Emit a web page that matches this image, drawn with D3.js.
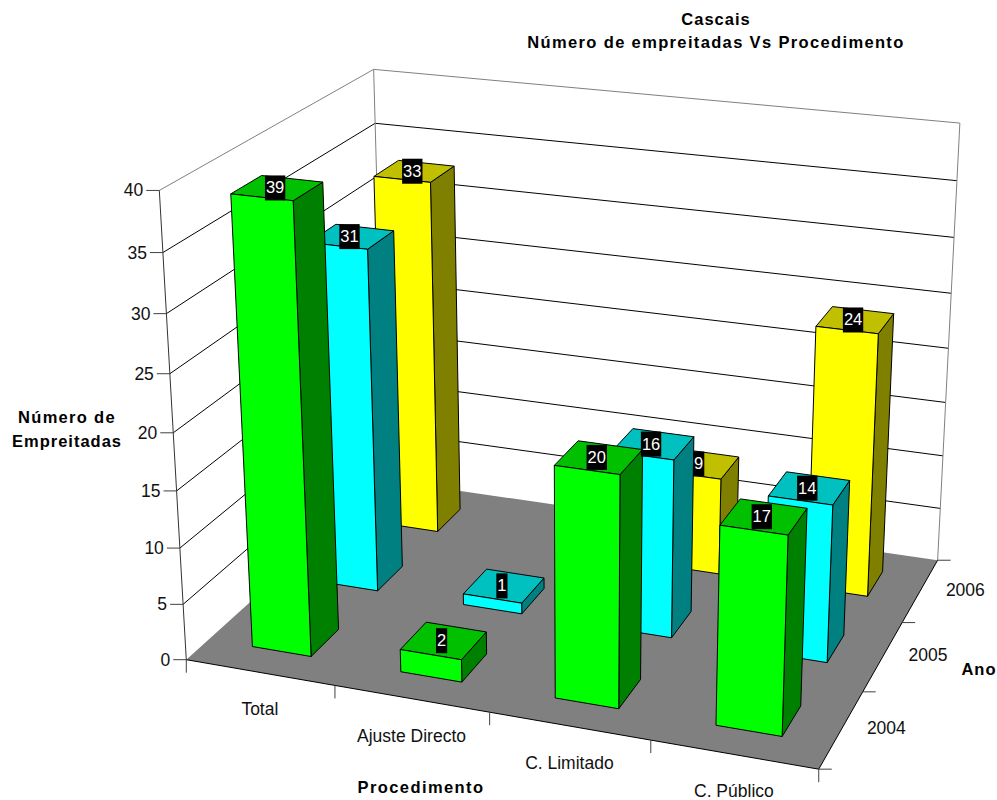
<!DOCTYPE html>
<html>
<head>
<meta charset="utf-8">
<script src="https://cdn.jsdelivr.net/npm/d3@7/dist/d3.min.js"></script>
<style>
  html, body { margin: 0; padding: 0; background: #fff; }
  svg { display: block; font-family: "Liberation Sans", Arial, sans-serif; }
</style>
</head>
<body>
<svg id="chart" width="997" height="800"></svg>
<script>
// Chart data
const categories = ["Total", "Ajuste Directo", "C. Limitado", "C. Público"];
const years = ["2004", "2005", "2006"];
const values2004 = [39, 2, 20, 17];
const values2005 = [31, 1, 16, 14];
const values2006 = [33, null, 9, 24];
const valueTicks = [0, 5, 10, 15, 20, 25, 30, 35, 40];
const seriesValues = { "2004": values2004, "2005": values2005, "2006": values2006 };
const palette = {
  "2004": { front: "#00ff00", top: "#00c000", side: "#008000" },
  "2005": { front: "#00ffff", top: "#00c0c0", side: "#008080" },
  "2006": { front: "#ffff00", top: "#c0c000", side: "#808000" }
};

// Unit-cube scales for the three chart dimensions
const xScale = d3.scaleBand().domain(categories).range([0, 1]).paddingInner(0.6).paddingOuter(0.3);
const yScale = d3.scaleBand().domain(years).range([0, 1]).paddingInner(0.6).paddingOuter(0.3);
const zScale = d3.scaleLinear().domain([0, 40]).range([0, 1]);

// Camera calibration: cube position -> page position of the box edges and ticks
const cameraAnchors = [
  [0, 0, 0, 187, 660], [0, 0, .125, 183, 604], [0, 0, .25, 180, 548], [0, 0, .375, 177, 492],
  [0, 0, .875, 163, 252], [0, 0, 1, 159, 191],
  [0, 1, 1, 374, 69], [0, 1, .875, 375, 123],
  [1, 1, 1, 960, 123], [1, 1, .875, 957, 181], [1, 1, .75, 954, 238], [1, 1, .625, 951, 293],
  [1, 1, .5, 948, 348], [1, 1, 0, 937, 561],
  [1, 0, 0, 819, 768], [.25, 0, 0, 334, 685], [.5, 0, 0, 489, 712], [.75, 0, 0, 650, 741],
  [1, 2 / 3, 0, 903, 622], [1, 1 / 3, 0, 864, 692]
];

// Least-squares fit of a projective camera (11 unknowns, last matrix entry fixed to 1)
function fitCamera(anchors) {
  const rows = [];
  anchors.forEach(([u, v, w, px, py]) => {
    const X = px / 1000, Y = py / 1000;
    rows.push([u, v, w, 1, 0, 0, 0, 0, -X * u, -X * v, -X * w, X]);
    rows.push([0, 0, 0, 0, u, v, w, 1, -Y * u, -Y * v, -Y * w, Y]);
  });
  const n = 11;
  const A = d3.range(n).map(i => d3.range(n + 1).map(j =>
    d3.sum(rows, r => r[i] * r[j])));
  for (let c = 0; c < n; c++) {
    let best = c;
    for (let r = c + 1; r < n; r++) if (Math.abs(A[r][c]) > Math.abs(A[best][c])) best = r;
    [A[c], A[best]] = [A[best], A[c]];
    for (let r = 0; r < n; r++) {
      if (r === c) continue;
      const f = A[r][c] / A[c][c];
      for (let k = c; k <= n; k++) A[r][k] -= f * A[c][k];
    }
  }
  return d3.range(n).map(i => A[i][n] / A[i][i]);
}
const cam = fitCamera(cameraAnchors);
function project(u, v, w) {
  const d = cam[8] * u + cam[9] * v + cam[10] * w + 1;
  return [
    1000 * (cam[0] * u + cam[1] * v + cam[2] * w + cam[3]) / d,
    1000 * (cam[4] * u + cam[5] * v + cam[6] * w + cam[7]) / d
  ];
}

const svg = d3.select("#chart");
const poly = pts => "M" + pts.map(p => p.map(n => n.toFixed(2)).join(",")).join("L") + "Z";
const seg = (parent, a, b, color) => parent.append("line")
  .attr("x1", a[0]).attr("y1", a[1]).attr("x2", b[0]).attr("y2", b[1])
  .attr("stroke", color).attr("stroke-width", 1);

// Walls and floor
const box = svg.append("g");
box.append("path").attr("fill", "#fff")
  .attr("d", poly([project(0, 0, 0), project(0, 1, 0), project(0, 1, 1), project(0, 0, 1)]));
box.append("path").attr("fill", "#fff")
  .attr("d", poly([project(0, 1, 0), project(1, 1, 0), project(1, 1, 1), project(0, 1, 1)]));
box.append("path").attr("fill", "#808080")
  .attr("d", poly([project(0, 0, 0), project(1, 0, 0), project(1, 1, 0), project(0, 1, 0)]));

// Gridlines across both walls
valueTicks.filter(t => t > 0).forEach(t => {
  const w = zScale(t);
  const color = t === 40 ? "#808080" : "#000";
  seg(box, project(0, 0, w), project(0, 1, w), color);
  seg(box, project(0, 1, w), project(1, 1, w), color);
});
seg(box, project(0, 1, 0), project(0, 1, 1), "#808080");
seg(box, project(1, 1, 0), project(1, 1, 1), "#808080");
seg(box, project(0, 0, 0), project(0, 0, 1), "#333");
seg(box, project(0, 0, 0), project(1, 0, 0), "#000");
seg(box, project(1, 0, 0), project(1, 1, 0), "#000");

// Value axis ticks and labels
const tickColor = "#404040";
const textColor = "#111";
const axisFont = 17.5;
valueTicks.forEach(t => {
  const p = project(0, 0, zScale(t));
  seg(box, p, [p[0] - 13, p[1]], tickColor);
  svg.append("text").attr("x", p[0] - 16).attr("y", p[1] + 6)
    .attr("text-anchor", "end").attr("font-size", axisFont).attr("fill", textColor).text(t);
});

// Category axis ticks and labels
d3.range(categories.length + 1).forEach(i => {
  const p = project(i / categories.length, 0, 0);
  seg(box, p, [p[0], p[1] + 13], tickColor);
});
categories.forEach(c => {
  const p = project(xScale(c) + xScale.bandwidth() / 2, 0, 0);
  svg.append("text").attr("x", p[0]).attr("y", p[1] + 43)
    .attr("text-anchor", "middle").attr("font-size", axisFont).attr("fill", textColor).text(c);
});

// Year axis ticks and labels
d3.range(years.length + 1).forEach(i => {
  const p = project(1, i / years.length, 0);
  seg(box, p, [p[0] + 13, p[1]], tickColor);
});
years.forEach(y => {
  const p = project(1, yScale(y) + yScale.bandwidth() / 2, 0);
  svg.append("text").attr("x", p[0] + 45).attr("y", p[1] + 5)
    .attr("text-anchor", "middle").attr("font-size", axisFont).attr("fill", textColor).text(y);
});

// Bars, back row first so nearer bars overlap farther ones
const bars = svg.append("g");
const labels = [];
years.slice().reverse().forEach(year => {
  const v0 = yScale(year), v1 = v0 + yScale.bandwidth();
  categories.forEach((cat, i) => {
    const value = seriesValues[year][i];
    if (value == null) return;
    const u0 = xScale(cat), u1 = u0 + xScale.bandwidth();
    const w = zScale(value);
    const g = bars.append("g").attr("stroke", "#000").attr("stroke-width", 1).attr("stroke-linejoin", "round");
    const colors = palette[year];
    g.append("path").attr("fill", colors.side)
      .attr("d", poly([project(u1, v0, 0), project(u1, v1, 0), project(u1, v1, w), project(u1, v0, w)]));
    g.append("path").attr("fill", colors.top)
      .attr("d", poly([project(u0, v0, w), project(u1, v0, w), project(u1, v1, w), project(u0, v1, w)]));
    g.append("path").attr("fill", colors.front)
      .attr("d", poly([project(u0, v0, 0), project(u1, v0, 0), project(u1, v0, w), project(u0, v0, w)]));
    labels.push({ value, at: project((u0 + u1) / 2, (v0 + v1) / 2, w) });
  });
});

// Value labels: white digits on a black plate, centred on each bar top
labels.forEach(d => {
  const g = svg.append("g");
  const cx = d.at[0] - 2;
  const t = g.append("text").attr("x", cx).attr("y", d.at[1] + 5.5)
    .attr("text-anchor", "middle").attr("font-size", 16.5).attr("fill", "#fff").text(d.value);
  const w = t.node().getComputedTextLength() + 2;
  g.insert("rect", "text").attr("x", cx - w / 2).attr("y", d.at[1] - 12.5)
    .attr("width", w).attr("height", 25).attr("fill", "#000");
});

// Titles
const boldText = (x, y, s, spacing) => svg.append("text").attr("x", x).attr("y", y)
  .attr("text-anchor", "middle").attr("font-size", 16.5).attr("font-weight", "bold")
  .attr("letter-spacing", spacing).attr("fill", "#000").text(s);
boldText(716, 25, "Cascais", 1);
boldText(716, 48, "Número de empreitadas Vs Procedimento", 1.35);
boldText(67, 423, "Número de", 1.3);
boldText(67, 447, "Empreitadas", 1);
boldText(421, 793, "Procedimento", 1.4);
boldText(979, 675, "Ano", 1);
</script>
</body>
</html>
